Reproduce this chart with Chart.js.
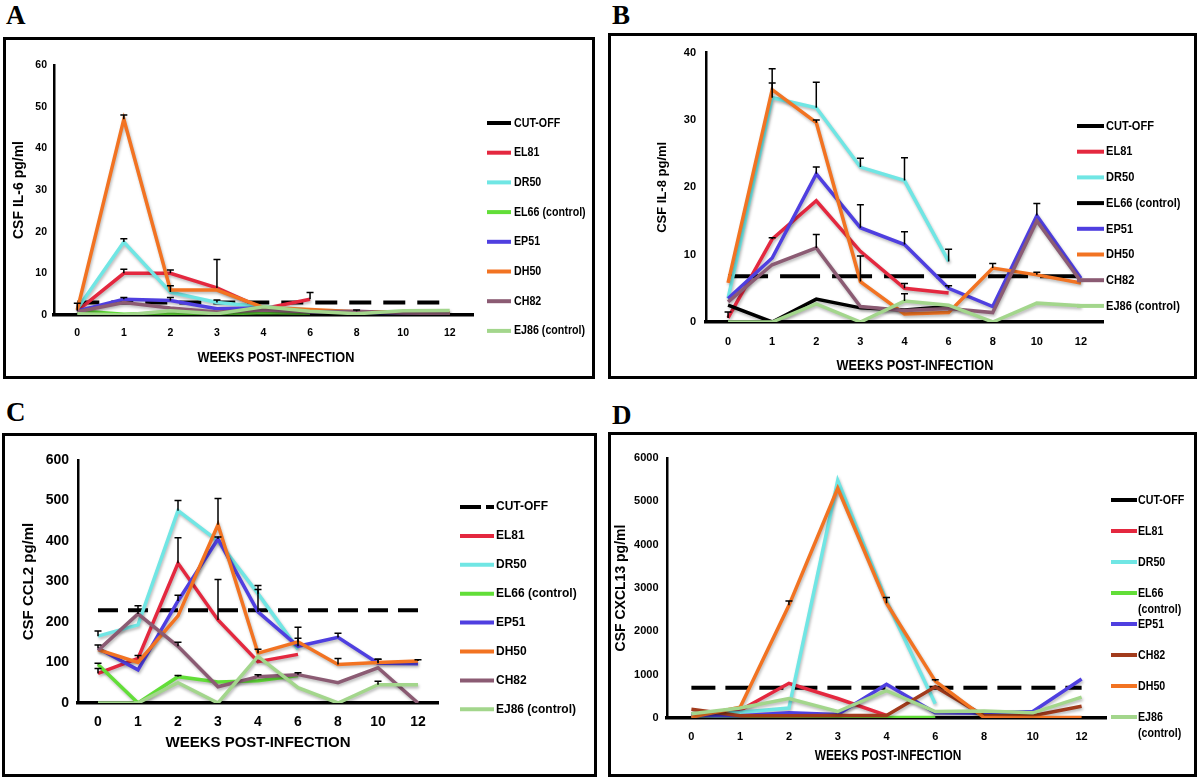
<!DOCTYPE html>
<html>
<head>
<meta charset="utf-8">
<script src="https://cdn.jsdelivr.net/npm/chart.js@4.4.1/dist/chart.umd.min.js"></script>
<style>
body { margin:0; background:#fff; width:1200px; height:781px; overflow:hidden; position:relative; }
.lbl { position:absolute; font: bold 27px 'Liberation Serif','Times New Roman',serif; line-height:27px; color:#000; }
.box { position:absolute; border:3px solid #000; box-sizing:border-box; }
.box canvas { position:absolute; left:0; top:0; }
</style>
</head>
<body>
<div class="lbl" style="left:6px;top:2px">A</div>
<div class="lbl" style="left:612px;top:2px">B</div>
<div class="lbl" style="left:6px;top:399px">C</div>
<div class="lbl" style="left:612px;top:402px">D</div>

<div class="box" style="left:3px;top:37px;width:592px;height:342px"><canvas id="chartA" width="586" height="336"></canvas></div>
<div class="box" style="left:608px;top:33px;width:589px;height:346px"><canvas id="chartB" width="583" height="340"></canvas></div>
<div class="box" style="left:2px;top:433px;width:595px;height:344px"><canvas id="chartC" width="589" height="338"></canvas></div>
<div class="box" style="left:608px;top:432px;width:589px;height:345px"><canvas id="chartD" width="583" height="339"></canvas></div>

<script>
const weeks = ['0', '1', '2', '3', '4', '6', '8', '10', '12'];

// A - CSF IL-6 pg/ml
const il6Cutoff = [3, 3, 3, 3, 3, 3, 3, 3, 3];
const il6EL81 = [1, 10, 10, 6.5, 1.5, 3.8, null, null, null];
const il6DR50 = [1.5, 17.5, 5.5, 3, 2, 1.2, null, null, null];
const il6EL66 = [1, 0.2, 0.5, 0.2, 0.6, 0.4, null, null, null];
const il6EP51 = [1, 3.8, 3.5, 1.5, 1.7, 0.8, 0.6, 0.5, 0.4];
const il6DH50 = [1.2, 47, 6, 6, 1.8, 1.3, 0.8, 0.8, 0.5];
const il6CH82 = [0.8, 3, 1.7, 0.7, 1.2, 0.8, 0.9, 0.5, 0.3];
const il6EJ86 = [0.3, 0, 1, 0.3, 2, 0.9, 0.3, 1, 1.1];
const il6EL81Err = [2.8, 11, 10.8, 13.3, null, 5.4, null, null, null];
const il6DR50Err = [null, 18.3, 7, 3.6, null, null, null, null, null];
const il6EP51Err = [null, 4.2, 4.2, null, null, null, null, null, null];
const il6DH50Err = [null, 48, null, null, null, null, null, null, null];
const il6CH82Err = [null, null, null, null, null, null, 1.2, null, null];

// B - CSF IL-8 pg/ml
const il8Cutoff = [6.8, 6.8, 6.8, 6.8, 6.8, 6.8, 6.8, 6.8, 6.8];
const il8EL81 = [0.6, 12.3, 18, 10.5, 5, 4.3, null, null, null];
const il8DR50 = [3.5, 33.3, 31.8, 23, 21, 9, null, null, null];
const il8EL66 = [2.5, 0, 3.4, 2.1, 1.8, 2.3, null, null, null];
const il8EP51 = [3.5, 9.5, 22, 14, 11.5, 5, 2.3, 15.8, 6.5];
const il8DH50 = [5.8, 34.5, 29.6, 6, 1.2, 1.4, 8, 7, 5.8];
const il8CH82 = [3, 8.5, 11, 2.3, 1.7, 2, 1.4, 15, 6];
const il8EJ86 = [0, 0, 2.7, 0, 3.1, 2.5, 0, 2.8, 2.4];
const il8EL81Err = [1.5, 12.5, null, null, 5.7, null, null, null, null];
const il8DR50Err = [null, 35.5, 35.6, 24.3, 24.4, 10.8, null, null, null];
const il8EP51Err = [null, null, 23, 17.4, 13.4, 5.4, null, 17.6, null];
const il8DH50Err = [null, 37.6, 30, 9.8, null, null, 8.7, 7.4, null];
const il8CH82Err = [null, null, 13, null, null, null, null, null, null];
const il8EJ86Err = [null, null, null, null, 4.2, null, null, null, null];

// C - CSF CCL2 pg/ml
const ccl2Cutoff = [229, 229, 229, 229, 229, 229, 229, 229, 229];
const ccl2EL81 = [73, 110, 345, 205, 102, 120, null, null, null];
const ccl2DR50 = [165, 193, 475, 400, 270, 133, null, null, null];
const ccl2EL66 = [95, 0, 65, 52, 55, 68, null, null, null];
const ccl2EP51 = [135, 82, 252, 405, 225, 140, 162, 98, 97];
const ccl2DH50 = [132, 100, 215, 440, 123, 151, 95, 100, 104];
const ccl2CH82 = [130, 220, 140, 40, 65, 70, 50, 87, 0];
const ccl2EJ86 = [0, 0, 50, 0, 115, 38, 0, 45, 45];
const ccl2EL81Err = [85, 117, 408, 305, null, null, null, null, null];
const ccl2DR50Err = [178, null, 500, null, 290, null, null, null, null];
const ccl2EL66Err = [98, null, 68, null, null, null, null, null, null];
const ccl2EP51Err = [143, null, 266, 410, 280, 160, 172, 108, null];
const ccl2DH50Err = [null, null, null, 505, 133, 187, 110, 108, 107];
const ccl2CH82Err = [null, 240, 150, null, 70, 75, null, null, null];
const ccl2EJ86Err = [null, null, null, null, null, null, null, 54, null];

// D - CSF CXCL13 pg/ml
const cxclCutoff = [700, 700, 700, 700, 700, 700, 700, 700, 700];
const cxclEL81 = [100, 180, 800, 450, 60, null, null, null, null];
const cxclDR50 = [100, 130, 230, 5480, 2700, 330, null, null, null];
const cxclEL66 = [10, 10, 10, 10, 10, 10, null, null, null];
const cxclEP51 = [50, 50, 120, 80, 780, 120, 110, 150, 900];
const cxclCH82 = [200, 50, 50, 60, 60, 720, 50, 50, 270];
const cxclDH50 = [20, 250, 2600, 5300, 2650, 850, 10, 10, 10];
const cxclEJ86 = [100, 230, 450, 150, 630, 150, 160, 120, 480];
const cxclDH50Err = [null, null, 2700, null, 2780, 880, null, null, null];

const RED = '#e4283f', CYAN = '#70e6e4', GREEN = '#62de38', BLUE = '#4f3fe0';
const ORANGE = '#f27322', MAUVE = '#8b5b73', LGREEN = '#a3d68c', BROWN = '#a23b1c';
const ARIAL = "'Liberation Sans', Arial, sans-serif";
const XTITLE = 'WEEKS POST-INFECTION';

function line(label, data, color, err) {
    return { label: label, data: data, borderColor: color, backgroundColor: color,
        borderWidth: 3.5, pointRadius: 0, tension: 0, fill: false, errTop: err || null, shadow: true };
}
function cutoffLine(data, dash, legendDash) {
    return { label: 'CUT-OFF', data: data, borderColor: '#000', backgroundColor: '#000',
        borderWidth: 4, borderDash: dash, pointRadius: 0, fill: false, legendDash: legendDash || [] };
}

// text squeezed sideways, the figure uses a condensed font we don't have
function squeezed(ctx, text, x, y, sx) {
    ctx.save();
    ctx.translate(x, y);
    ctx.scale(sx, 1);
    ctx.fillText(text, 0, 0);
    ctx.restore();
}

// soft drop shadow under the coloured lines
const lineShadow = {
    id: 'lineShadow',
    beforeDatasetDraw(chart, args) {
        if (!args.meta._dataset.shadow) return;
        const ctx = chart.ctx;
        ctx.save();
        ctx.shadowColor = 'rgba(0,0,0,0.28)';
        ctx.shadowBlur = 3;
        ctx.shadowOffsetX = 1;
        ctx.shadowOffsetY = 2;
    },
    afterDatasetDraw(chart, args) {
        if (!args.meta._dataset.shadow) return;
        chart.ctx.restore();
    }
};

// error bars, upper half only, like the original figure
const errorBars = {
    id: 'errorBars',
    afterDatasetsDraw(chart) {
        const ctx = chart.ctx;
        const y = chart.scales.y;
        chart.data.datasets.forEach((ds, i) => {
            if (!ds.errTop) return;
            const meta = chart.getDatasetMeta(i);
            ds.errTop.forEach((top, j) => {
                if (top == null || ds.data[j] == null) return;
                const pt = meta.data[j];
                const yt = y.getPixelForValue(top);
                ctx.save();
                ctx.strokeStyle = '#000';
                ctx.lineWidth = 1.5;
                ctx.beginPath();
                ctx.moveTo(pt.x, pt.y);
                ctx.lineTo(pt.x, yt);
                ctx.moveTo(pt.x - 3.5, yt);
                ctx.lineTo(pt.x + 3.5, yt);
                ctx.stroke();
                ctx.restore();
            });
        });
    }
};

// legend column on the right + x title
const sideLegend = {
    id: 'sideLegend',
    afterDraw(chart, args, opts) {
        const ctx = chart.ctx;
        ctx.save();
        ctx.font = opts.font;
        ctx.textBaseline = 'middle';
        ctx.textAlign = 'left';
        chart.data.datasets.forEach((ds, i) => {
            const y = opts.y + i * opts.step;
            ctx.strokeStyle = ds.borderColor;
            ctx.lineWidth = 4;
            ctx.setLineDash(ds.legendDash || []);
            ctx.beginPath();
            ctx.moveTo(opts.x1, y);
            ctx.lineTo(opts.x2, y);
            ctx.stroke();
            ctx.setLineDash([]);
            ctx.fillStyle = '#000';
            ds.label.split('\n').forEach((t, k) => squeezed(ctx, t, opts.tx, y + k * opts.lineH, opts.sx));
        });
        if (opts.title) {
            ctx.font = opts.title.font;
            ctx.textAlign = 'center';
            squeezed(ctx, XTITLE, opts.title.x, opts.title.y, opts.sx);
        }
        ctx.restore();
    }
};

function makeChart(id, p) {
    p.datasets.forEach((ds, i) => { ds.order = -i; });
    return new Chart(document.getElementById(id), {
        type: 'line',
        data: { labels: weeks, datasets: p.datasets },
        options: {
            responsive: false,
            animation: false,
            events: [],
            layout: { padding: { left: 0, top: p.padTop, right: p.padRight, bottom: 0 } },
            scales: {
                x: {
                    offset: true,
                    grid: { display: false, drawTicks: false },
                    border: { display: true, color: '#000', width: 3.5 },
                    ticks: { color: '#000', font: p.tickFont, padding: p.xTickPad, maxRotation: 0, autoSkip: false },
                    title: { display: !!p.xTitleFont, text: XTITLE, color: '#000', font: p.xTitleFont,
                        padding: { top: 0, bottom: p.xTitlePad } },
                    afterFit: s => { s.height = p.xHeight; }
                },
                y: {
                    min: 0, max: p.yMax,
                    grid: { display: false, drawTicks: false },
                    border: { display: true, color: '#000', width: 2.5 },
                    ticks: { color: '#000', font: p.tickFont, padding: p.yTickPad, stepSize: p.yStep,
                        callback: v => String(v) },
                    title: { display: true, text: p.yTitle, color: '#000', font: p.yTitleFont,
                        padding: { top: p.yTitlePad, bottom: 0 } },
                    afterFit: s => { s.width = p.yWidth; }
                }
            },
            plugins: {
                legend: { display: false },
                tooltip: { enabled: false },
                sideLegend: p.legend
            }
        },
        plugins: [lineShadow, errorBars, sideLegend]
    });
}

makeChart('chartA', {
    datasets: [
        cutoffLine(il6Cutoff, [22, 12]),
        line('EL81', il6EL81, RED, il6EL81Err),
        line('DR50', il6DR50, CYAN, il6DR50Err),
        line('EL66 (control)', il6EL66, GREEN),
        line('EP51', il6EP51, BLUE, il6EP51Err),
        line('DH50', il6DH50, ORANGE, il6DH50Err),
        line('CH82', il6CH82, MAUVE, il6CH82Err),
        line('EJ86 (control)', il6EJ86, LGREEN)
    ],
    yMax: 60, yStep: 10, yTitle: 'CSF IL-6 pg/ml',
    padTop: 25, padRight: 119, yWidth: 48, xHeight: 61,
    tickFont: { family: ARIAL, size: 10.5, weight: 'bold' },
    yTickPad: 7, xTickPad: 12,
    yTitleFont: { family: ARIAL, size: 14, weight: 'bold' }, yTitlePad: 5,
    legend: { x1: 481, x2: 505, tx: 508, y: 83, step: 29.7, lineH: 15, sx: 0.82, font: 'bold 13px ' + ARIAL,
        title: { x: 270, y: 318, font: 'bold 15.5px ' + ARIAL } }
});

makeChart('chartB', {
    datasets: [
        cutoffLine(il8Cutoff, [40, 12]),
        line('EL81', il8EL81, RED, il8EL81Err),
        line('DR50', il8DR50, CYAN, il8DR50Err),
        line('EL66 (control)', il8EL66, '#000'),
        line('EP51', il8EP51, BLUE, il8EP51Err),
        line('DH50', il8DH50, ORANGE, il8DH50Err),
        line('CH82', il8CH82, MAUVE, il8CH82Err),
        line('EJ86 (control)', il8EJ86, LGREEN, il8EJ86Err)
    ],
    yMax: 40, yStep: 10, yTitle: 'CSF IL-8 pg/ml',
    padTop: 9, padRight: 91, yWidth: 95, xHeight: 54,
    tickFont: { family: ARIAL, size: 11, weight: 'bold' },
    yTickPad: 10, xTickPad: 13,
    yTitleFont: { family: ARIAL, size: 13, weight: 'bold' }, yTitlePad: 44,
    legend: { x1: 466, x2: 493, tx: 495, y: 90, step: 25.7, lineH: 15, sx: 0.82, font: 'bold 13.5px ' + ARIAL,
        title: { x: 304, y: 330, font: 'bold 15.5px ' + ARIAL } }
});

makeChart('chartC', {
    datasets: [
        cutoffLine(ccl2Cutoff, [20, 10], [21, 5, 8, 100]),
        line('EL81', ccl2EL81, RED, ccl2EL81Err),
        line('DR50', ccl2DR50, CYAN, ccl2DR50Err),
        line('EL66 (control)', ccl2EL66, GREEN, ccl2EL66Err),
        line('EP51', ccl2EP51, BLUE, ccl2EP51Err),
        line('DH50', ccl2DH50, ORANGE, ccl2DH50Err),
        line('CH82', ccl2CH82, MAUVE, ccl2CH82Err),
        line('EJ86 (control)', ccl2EJ86, LGREEN, ccl2EJ86Err)
    ],
    yMax: 600, yStep: 100, yTitle: 'CSF CCL2 pg/ml',
    padTop: 24, padRight: 156, yWidth: 73, xHeight: 71,
    tickFont: { family: ARIAL, size: 14, weight: 'bold' },
    yTickPad: 9, xTickPad: 11,
    yTitleFont: { family: ARIAL, size: 15, weight: 'bold' }, yTitlePad: 15,
    xTitleFont: { family: ARIAL, size: 15, weight: 'bold' }, xTitlePad: 22,
    legend: { x1: 455, x2: 489, tx: 491, y: 71, step: 28.9, lineH: 15, sx: 1, font: 'bold 12px ' + ARIAL }
});

makeChart('chartD', {
    datasets: [
        cutoffLine(cxclCutoff, [24, 10]),
        line('EL81', cxclEL81, RED),
        line('DR50', cxclDR50, CYAN),
        line('EL66\n(control)', cxclEL66, GREEN),
        line('EP51', cxclEP51, BLUE),
        line('CH82', cxclCH82, BROWN),
        line('DH50', cxclDH50, ORANGE, cxclDH50Err),
        line('EJ86\n(control)', cxclEJ86, LGREEN)
    ],
    yMax: 6000, yStep: 1000, yTitle: 'CSF CXCL13 pg/ml',
    padTop: 23, padRight: 88, yWidth: 56, xHeight: 56,
    tickFont: { family: ARIAL, size: 11, weight: 'bold' },
    yTickPad: 8.5, xTickPad: 12,
    yTitleFont: { family: ARIAL, size: 14, weight: 'bold' }, yTitlePad: 2,
    legend: { x1: 500, x2: 526, tx: 527, y: 65, step: 31, lineH: 16, sx: 0.82, font: 'bold 13px ' + ARIAL,
        title: { x: 277, y: 321, font: 'bold 14.5px ' + ARIAL } }
});
</script>
</body>
</html>
